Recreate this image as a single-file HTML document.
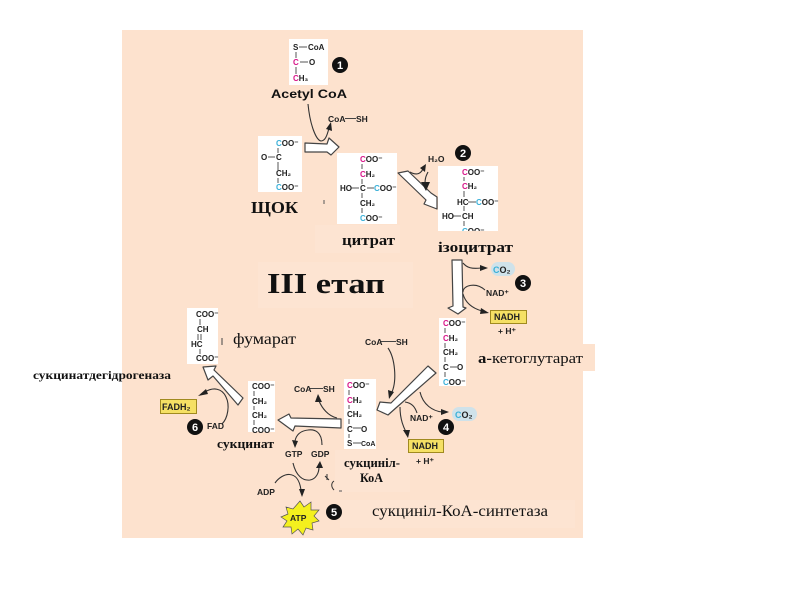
<!DOCTYPE html>
<html><head><meta charset="utf-8"><style>
html,body{margin:0;padding:0;background:#fff}
svg{display:block}
.m{font:bold 8px "Liberation Sans",sans-serif;fill:#222}
.l{font:bold 8.5px "Liberation Sans",sans-serif;fill:#222}
.s{font-family:"Liberation Serif",serif;font-weight:bold;fill:#111}
.c{fill:#3ab0d8}.p{fill:#d8168a}
.ln{stroke:#555;stroke-width:1;fill:none}
.cv{stroke:#333;stroke-width:1.1;fill:none}
.ar{fill:#fff;stroke:#444;stroke-width:1.2;stroke-linejoin:round}
.n{fill:#111}.nt{font:bold 11px "Liberation Sans",sans-serif;fill:#fff;text-anchor:middle}
.ah{fill:#222}
</style></head><body>
<svg width="800" height="600" viewBox="0 0 800 600" xmlns="http://www.w3.org/2000/svg">
<rect width="800" height="600" fill="#fff"/>
<rect x="122" y="30" width="461" height="508" fill="#fde2ce"/>
<rect x="477" y="344" width="118" height="27" fill="#fde2ce"/>
<g fill="#fde4d2">
<rect x="258" y="262" width="155" height="46"/>
<rect x="340" y="500" width="235" height="28"/>
<rect x="315" y="225" width="85" height="28"/>
<rect x="335" y="450" width="75" height="42"/>
</g>

<!-- white boxes -->
<g fill="#fff">
<rect x="289" y="39" width="39" height="46"/>
<rect x="258" y="136" width="44" height="56"/>
<rect x="337" y="153" width="60" height="71"/>
<rect x="438" y="166" width="60" height="65"/>
<rect x="439" y="318" width="27" height="68"/>
<rect x="344" y="379" width="32" height="70"/>
<rect x="248" y="381" width="27" height="51"/>
<rect x="187" y="308" width="31" height="56"/>
</g>

<!-- Acetyl CoA -->
<path class="ln" d="M296 52V58M296 67V74M299 47H307M300 62H308"/>
<text class="m" x="293" y="50">S</text><text class="m" x="308" y="50">CoA</text>
<text class="m p" x="293" y="65">C</text><text class="m" x="309" y="65">O</text>
<text class="m" x="293" y="81"><tspan class="p">C</tspan>H₃</text>
<text x="271" y="98" textLength="76" lengthAdjust="spacingAndGlyphs" style="font:bold 12px 'Liberation Sans',sans-serif;fill:#111">Acetyl CoA</text>

<!-- OAA -->
<path class="ln" d="M278 148V153M278 162V170M278 178V183M268 157H275"/>
<text class="m" x="276" y="146"><tspan class="c">C</tspan>OO⁻</text>
<text class="m" x="261" y="160">O</text><text class="m" x="276" y="160">C</text>
<text class="m" x="276" y="176">CH₂</text>
<text class="m" x="276" y="190"><tspan class="c">C</tspan>OO⁻</text>

<!-- citrate -->
<path class="ln" d="M362 164V169M362 179V184M362 193V198M362 208V213M351 188H359M367 188H374"/>
<text class="m" x="360" y="162"><tspan class="p">C</tspan>OO⁻</text>
<text class="m" x="360" y="177"><tspan class="p">C</tspan>H₂</text>
<text class="m" x="340" y="191">HO</text><text class="m" x="360" y="191">C</text><text class="m" x="374" y="191"><tspan class="c">C</tspan>OO⁻</text>
<text class="m" x="360" y="206">CH₂</text>
<text class="m" x="360" y="221"><tspan class="c">C</tspan>OO⁻</text>

<!-- isocitrate -->
<path class="ln" d="M464 177V181M464 191V197M464 206V211M464 221V226M468 202H476M452 216H461"/>
<text class="m" x="462" y="175"><tspan class="p">C</tspan>OO⁻</text>
<text class="m" x="462" y="189"><tspan class="p">C</tspan>H₂</text>
<text class="m" x="457" y="205">HC</text><text class="m" x="476" y="205"><tspan class="c">C</tspan>OO⁻</text>
<text class="m" x="442" y="219">HO</text><text class="m" x="462" y="219">CH</text>
<text class="m" x="462" y="234"><tspan class="c">C</tspan>OO⁻</text>
<rect x="438" y="231" width="60" height="5" fill="#fde2ce"/>

<!-- a-KG -->
<path class="ln" d="M445 328V333M445 343V348M445 357V362M445 372V377M450 367H457"/>
<text class="m" x="443" y="326"><tspan class="p">C</tspan>OO⁻</text>
<text class="m" x="443" y="341"><tspan class="p">C</tspan>H₂</text>
<text class="m" x="443" y="355">CH₂</text>
<text class="m" x="443" y="370">C</text><text class="m" x="457" y="370">O</text>
<text class="m" x="443" y="385"><tspan class="c">C</tspan>OO⁻</text>

<!-- succinyl CoA -->
<path class="ln" d="M349 390V395M349 405V409M349 419V424M349 434V438M353 428H361M353 443H361"/>
<text class="m" x="347" y="388"><tspan class="p">C</tspan>OO⁻</text>
<text class="m" x="347" y="403"><tspan class="p">C</tspan>H₂</text>
<text class="m" x="347" y="417">CH₂</text>
<text class="m" x="347" y="432">C</text><text class="m" x="361" y="432">O</text>
<text class="m" x="347" y="446">S</text><text style="font:bold 7px 'Liberation Sans',sans-serif;fill:#222" x="361" y="446">CoA</text>

<!-- succinate -->
<path class="ln" d="M254 391V396M254 406V410M254 420V425"/>
<text class="m" x="252" y="389">COO⁻</text>
<text class="m" x="252" y="404">CH₂</text>
<text class="m" x="252" y="418">CH₂</text>
<text class="m" x="252" y="433">COO⁻</text>

<!-- fumarate -->
<path class="ln" d="M200 319V325M198 334V340M201 334V340M200 349V354"/>
<text class="m" x="196" y="317">COO⁻</text>
<text class="m" x="197" y="332">CH</text>
<text class="m" x="191" y="347">HC</text>
<text class="m" x="196" y="361">COO⁻</text>
<path d="M222 338V345" stroke="#444" stroke-width="1"/>

<!-- big arrows -->
<path class="ar" d="M305 143L327 144L329 138L339 147L331 155L327 152L305 152Z"/>
<path class="ar" d="M398 173L408 171L431 193L437 197L437 209L424 204L426 200Z"/>
<path class="ar" d="M452 260H462L463 307L466 308L458 314L448 308L453 306Z"/>
<path class="ar" d="M428 366L436 373L397 407L388 415L377 410L380 402L391 403Z"/>
<path class="ar" d="M341 419V428L295 426L293 431L278 420L289 414L291 418Z"/>
<path class="ar" d="M243 398L238 405L213 376L208 380L203 367L216 366L214 370Z"/>

<!-- curves -->
<path class="cv" d="M308 104C310 125 316 140 321 141C325 141 327 136 329 128"/>
<path class="ah" d="M331 122L326 129L332 131Z"/>
<path class="cv" d="M410 172C415 175 420 175 423 169"/>
<path class="ah" d="M426 164L420 168L425 172Z"/>
<path class="cv" d="M428 172C426 176 425 178 425 184"/>
<path class="ah" d="M426 191L421 182L430 182Z"/>
<path class="cv" d="M463 263C467 268 472 269 481 268"/><path class="ah" d="M488 268L480 265V271Z"/>
<path class="cv" d="M463 292C463 285 476 282 485 290"/>
<path class="cv" d="M463 294C466 305 475 309 482 311"/><path class="ah" d="M489 313L481 308L480 314Z"/>
<path class="cv" d="M420 392C423 405 433 411 442 412"/><path class="ah" d="M449 412L441 409V415Z"/>
<path class="cv" d="M405 402C412 403 415 407 417 413"/>
<path class="cv" d="M400 407C400 420 404 428 406 432"/><path class="ah" d="M408 438L403 430L410 430Z"/>
<path class="cv" d="M388 348C395 358 397 380 392 392"/><path class="ah" d="M389 399L388 390L394 392Z"/>
<path class="cv" d="M337 418C328 416 322 408 319 401"/><path class="ah" d="M318 394L315 402L322 402Z"/>
<path class="cv" d="M322 445C322 432 315 429 308 430C299 431 296 436 295 441"/><path class="ah" d="M295 448L292 440L298 441Z"/>
<path class="cv" d="M293 463C296 476 303 481 310 480C316 479 319 473 319 467"/><path class="ah" d="M320 461L316 468L323 468Z"/>
<path class="cv" d="M275 483C282 473 298 468 301 490"/><path class="ah" d="M302 497L299 489L305 489Z"/>
<path class="cv" d="M222 424C228 418 230 405 226 397C222 388 213 387 205 392"/><path class="ah" d="M198 396L206 389L208 394Z"/>
<path d="M325 476L329 480M327 474L327 480M334 481C331 483 331 487 334 490" stroke="#333" fill="none" stroke-width="1"/>
<path d="M324 200V204M339 491H342" stroke="#555" stroke-width="1"/>

<!-- labels -->
<path d="M345 118.500H356M381 341.500H396M310 388.500H323" stroke="#444" stroke-width="1"/>
<text class="l" x="328" y="122">CoA</text><text class="l" x="356" y="122">SH</text>
<text class="l" x="428" y="162">H₂O</text>
<text class="l" x="365" y="345">CoA</text><text class="l" x="396" y="345">SH</text>
<text class="l" x="294" y="392">CoA</text><text class="l" x="323" y="392">SH</text>
<text class="l" x="486" y="296">NAD⁺</text>
<text class="l" x="410" y="421">NAD⁺</text>
<text class="l" x="498" y="334">+ H⁺</text>
<text class="l" x="416" y="464">+ H⁺</text>
<text class="l" x="207" y="429">FAD</text>
<text class="l" x="285" y="457">GTP</text>
<text class="l" x="311" y="457">GDP</text>
<text class="l" x="257" y="495">ADP</text>

<!-- CO2 -->
<rect x="491" y="262" width="24" height="14" rx="7" fill="#cfe2ea"/>
<text x="493" y="273" style="font:bold 9px 'Liberation Sans',sans-serif;fill:#222"><tspan class="c">C</tspan>O₂</text>
<rect x="452" y="407" width="25" height="14" rx="7" fill="#cfe2ea"/>
<text x="455" y="418" style="font:bold 9px 'Liberation Sans',sans-serif;fill:#222"><tspan class="c">C</tspan>O₂</text>

<!-- yellow boxes -->
<g fill="#f5e064" stroke="#a08a20" stroke-width="1">
<rect x="490.500" y="310.500" width="36" height="13"/>
<rect x="408.500" y="439.500" width="35" height="13"/>
<rect x="160.500" y="399.500" width="36" height="14"/>
</g>
<g style="font:bold 9px 'Liberation Sans',sans-serif;fill:#222">
<text x="494" y="320">NADH</text>
<text x="412" y="449">NADH</text>
<text x="162" y="410">FADH₂</text>
</g>

<!-- ATP -->
<path d="M300 501L304 507L311 502L311 510L319 510L314 516L319 521L312 523L313 530L306 528L303 535L298 529L292 534L291 527L283 527L287 521L281 517L288 514L286 507L293 509Z" fill="#f4f01e" stroke="#555" stroke-width=".7"/>
<text x="290" y="521" style="font:bold 8.5px 'Liberation Sans',sans-serif;fill:#222">ATP</text>

<!-- number circles -->
<circle class="n" cx="340" cy="65" r="8"/><text class="nt" x="340" y="69">1</text>
<circle class="n" cx="463" cy="153" r="8"/><text class="nt" x="463" y="157">2</text>
<circle class="n" cx="523" cy="283" r="8"/><text class="nt" x="523" y="287">3</text>
<circle class="n" cx="446" cy="427" r="8"/><text class="nt" x="446" y="431">4</text>
<circle class="n" cx="334" cy="512" r="8"/><text class="nt" x="334" y="516">5</text>
<circle class="n" cx="195" cy="427" r="8"/><text class="nt" x="195" y="431">6</text>

<!-- Ukrainian labels -->
<text class="s" x="251" y="213" font-size="16.500" textLength="47" lengthAdjust="spacingAndGlyphs">ЩОК</text>
<text class="s" x="342" y="245" font-size="15" textLength="53" lengthAdjust="spacingAndGlyphs">цитрат</text>
<text class="s" x="438" y="252" font-size="15" textLength="75" lengthAdjust="spacingAndGlyphs">ізоцитрат</text>
<text class="s" x="267" y="293" font-size="29" textLength="118" lengthAdjust="spacingAndGlyphs">ІІІ етап</text>
<text class="s" x="478" y="363" font-size="15" style="font-weight:normal" textLength="105" lengthAdjust="spacingAndGlyphs"><tspan font-weight="bold">а-</tspan>кетоглутарат</text>
<text class="s" x="233" y="344" font-size="15.500" style="font-weight:normal" textLength="63" lengthAdjust="spacingAndGlyphs">фумарат</text>
<text class="s" x="33" y="379" font-size="12" textLength="138" lengthAdjust="spacingAndGlyphs">сукцинатдегідрогеназа</text>
<text class="s" x="217" y="448" font-size="12.500" textLength="57" lengthAdjust="spacingAndGlyphs">сукцинат</text>
<text class="s" x="344" y="467" font-size="12.500" textLength="56" lengthAdjust="spacingAndGlyphs">сукциніл-</text>
<text class="s" x="360" y="482" font-size="13" textLength="23" lengthAdjust="spacingAndGlyphs">КоА</text>
<text class="s" x="372" y="516" font-size="16" style="font-weight:normal" textLength="176" lengthAdjust="spacingAndGlyphs">сукциніл-КоА-синтетаза</text>
</svg>
</body></html>
